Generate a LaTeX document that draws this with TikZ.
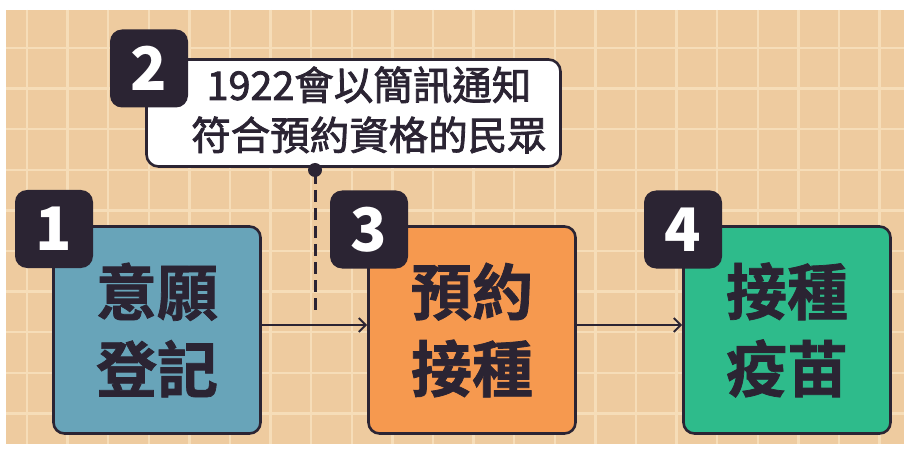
\documentclass[tikz,border=0pt]{standalone}
\usepackage{fontspec}
\newfontfamily\cjk{Noto Sans CJK TC}
\newfontfamily\cjkm{Noto Sans CJK TC}[FakeBold=2]
\newfontfamily\cjkh{Noto Sans CJK TC Bold}[FakeBold=1.2]
\usetikzlibrary{arrows.meta}
\definecolor{bgc}{HTML}{EECB9F}
\definecolor{gridc}{HTML}{F6DDB8}
\definecolor{bluec}{HTML}{68A4B9}
\definecolor{orangec}{HTML}{F6994F}
\definecolor{greenc}{HTML}{2EBB8B}
\definecolor{darkc}{HTML}{2B2433}
\begin{document}
\begin{tikzpicture}[x=1pt,y=-1pt,
  stepbox/.style={draw=darkc,line width=2.6pt,rounded corners=11pt,minimum width=207pt,minimum height=207pt,
    font=\cjkh\fontsize{61}{77}\selectfont,text=darkc,align=center,inner sep=0pt},
  badge/.style={fill=darkc,rounded corners=12pt,minimum width=78pt,minimum height=78pt,inner sep=0pt,
    font=\cjk\bfseries\fontsize{60}{60}\selectfont,text=white},
  arr/.style={draw=darkc,line width=2pt,-{Straight Barb[length=7pt,width=14pt,line width=2pt]}},
  callout/.style={draw=darkc,line width=2.6pt,fill=white,rounded corners=12pt,minimum width=414pt,minimum height=107pt,inner sep=0pt},
  calltext/.style={font=\cjkm\fontsize{39.5}{50}\selectfont,text=darkc,align=center,inner sep=0pt}
]
\useasboundingbox (0,0) rectangle (904,454);
\fill[white] (0,0) rectangle (904,454);
\fill[bgc] (6,10) rectangle (904,444);
\foreach \k in {0,...,21} {\draw[gridc,line width=2.5pt] ({27+40.6*\k},10) -- ({27+40.6*\k},444);}
\foreach \k in {0,...,9} {\draw[gridc,line width=2.5pt] (6,{48+40.6*\k}) -- (904,{48+40.6*\k});}

% callout
\node[callout] (call) at (353.5,113) {};
\node[calltext] (ctext) at (369,110) {1922會以簡訊通知\\符合預約資格的民眾};
\node[badge] (n2) at (149,68.5) {2};
\coordinate (dashend) at (315,313);
\draw[darkc,line width=3pt,dash pattern=on 12pt off 6pt] (315,172) -- (dashend);
\node[circle,fill=darkc,minimum size=14pt,inner sep=0pt] (dot) at (315,170) {};

% boxes
\node[stepbox,fill=bluec] (b1) at (157,330) {意願\\登記};
\node[stepbox,fill=orangec] (b3) at (472,330) {預約\\接種};
\node[stepbox,fill=greenc] (b4) at (787,330) {接種\\疫苗};
\node[badge] (n1) at (54,229) {1};
\node[badge] (n3) at (369,229.5) {3};
\node[badge] (n4) at (683,229.5) {4};

\draw[arr] ([yshift=5pt]b1.east) -- ([yshift=5pt]b3.west);
\draw[arr] ([yshift=5pt]b3.east) -- ([yshift=5pt]b4.west);
\end{tikzpicture}
\end{document}
